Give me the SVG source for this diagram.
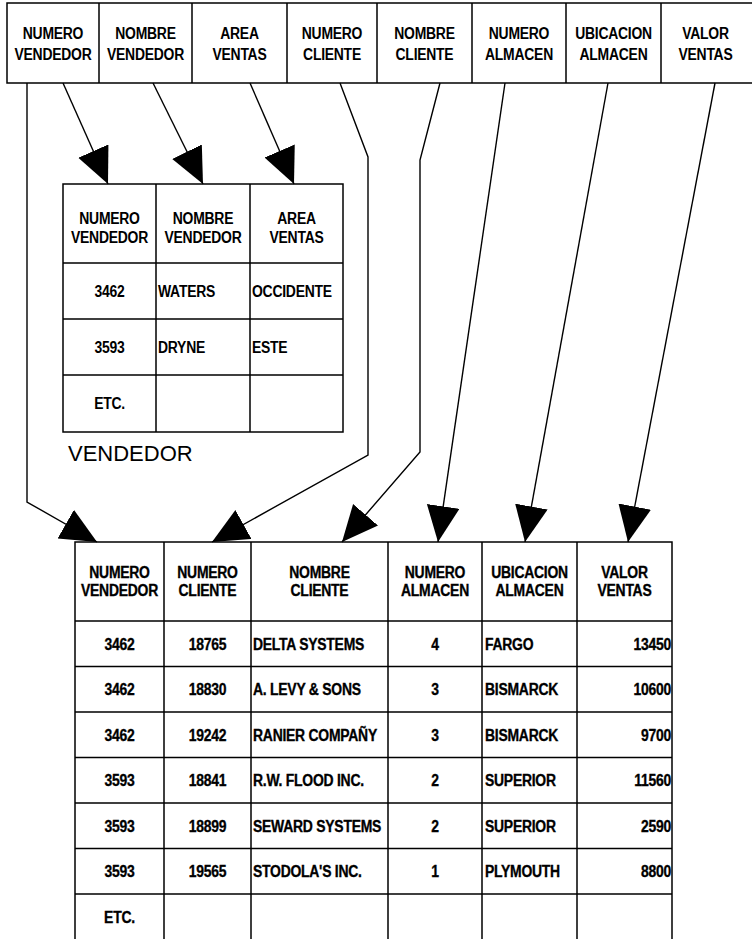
<svg xmlns="http://www.w3.org/2000/svg" width="752" height="939" viewBox="0 0 752 939">
<style>
.ln{fill:none;stroke:#000;stroke-width:1.5}
.cn{fill:none;stroke:#000;stroke-width:1.4;marker-end:url(#ah)}
.t{font-family:"Liberation Sans",Arial,sans-serif;font-size:17px;font-weight:bold;fill:#000;letter-spacing:-0.3px}
.h{stroke:#000;stroke-width:0.35}
.c{text-anchor:middle}
.r{text-anchor:end}
.lbl{font-family:"Liberation Sans",Arial,sans-serif;font-size:22px;fill:#000}
</style>
<defs>
<marker id="ah" markerUnits="userSpaceOnUse" markerWidth="37" markerHeight="34" refX="36" refY="16.5" orient="auto" viewBox="0 0 37 34">
<path d="M0,0 L36,16.5 L0,33 z" fill="#000"/>
</marker>
</defs>
<rect width="752" height="939" fill="#fff"/>

<g id="registro">
<path class="ln" d="M760,3H7V83H760"/>
<path class="ln" d="M99,3V83M192,3V83M287,3V83M377,3V83M472,3V83M566,3V83M661,3V83"/>
<g class="t c" transform="scale(0.82,1)">
<text x="64.63" y="39">NUMERO</text><text x="64.63" y="60">VENDEDOR</text>
<text x="177.44" y="39">NOMBRE</text><text x="177.44" y="60">VENDEDOR</text>
<text x="292.07" y="39">AREA</text><text x="292.07" y="60">VENTAS</text>
<text x="404.88" y="39">NUMERO</text><text x="404.88" y="60">CLIENTE</text>
<text x="517.68" y="39">NOMBRE</text><text x="517.68" y="60">CLIENTE</text>
<text x="632.93" y="39">NUMERO</text><text x="632.93" y="60">ALMACEN</text>
<text x="748.17" y="39">UBICACION</text><text x="748.17" y="60">ALMACEN</text>
<text x="860.37" y="39">VALOR</text><text x="860.37" y="60">VENTAS</text>
</g>
</g>

<g id="vendedor">
<rect class="ln" x="63" y="184" width="280" height="248"/>
<path class="ln" d="M156,184V432M250,184V432M63,263H343M63,319H343M63,375H343"/>
<g class="t c" transform="scale(0.82,1)">
<text x="133.54" y="224">NUMERO</text><text x="133.54" y="243">VENDEDOR</text>
<text x="247.56" y="224">NOMBRE</text><text x="247.56" y="243">VENDEDOR</text>
<text x="361.59" y="224">AREA</text><text x="361.59" y="243">VENTAS</text>
<text x="133.54" y="297">3462</text>
<text x="133.54" y="353">3593</text>
<text x="133.54" y="409">ETC.</text>
</g>
<g class="t" transform="scale(0.82,1)">
<text x="192.68" y="297">WATERS</text>
<text x="307.32" y="297">OCCIDENTE</text>
<text x="192.68" y="353">DRYNE</text>
<text x="307.32" y="353">ESTE</text>
</g>
<text class="lbl" x="68" y="461">VENDEDOR</text>
</g>

<g id="ventas">
<path class="ln" d="M75,939V542H672V939M164,542V939M251,542V939M388,542V939M482,542V939M577,542V939"/>
<path class="ln" d="M75,621H672M75,666.5H672M75,712H672M75,757.5H672M75,803H672M75,848.5H672M75,894H672"/>
<g class="t c h" transform="scale(0.82,1)">
<text x="145.73" y="578">NUMERO</text><text x="145.73" y="596">VENDEDOR</text>
<text x="253.05" y="578">NUMERO</text><text x="253.05" y="596">CLIENTE</text>
<text x="389.63" y="578">NOMBRE</text><text x="389.63" y="596">CLIENTE</text>
<text x="530.49" y="578">NUMERO</text><text x="530.49" y="596">ALMACEN</text>
<text x="645.73" y="578">UBICACION</text><text x="645.73" y="596">ALMACEN</text>
<text x="761.59" y="578">VALOR</text><text x="761.59" y="596">VENTAS</text>
<text x="145.73" y="650">3462</text><text x="253.05" y="650">18765</text><text x="530.49" y="650">4</text>
<text x="145.73" y="695">3462</text><text x="253.05" y="695">18830</text><text x="530.49" y="695">3</text>
<text x="145.73" y="741">3462</text><text x="253.05" y="741">19242</text><text x="530.49" y="741">3</text>
<text x="145.73" y="786">3593</text><text x="253.05" y="786">18841</text><text x="530.49" y="786">2</text>
<text x="145.73" y="832">3593</text><text x="253.05" y="832">18899</text><text x="530.49" y="832">2</text>
<text x="145.73" y="877">3593</text><text x="253.05" y="877">19565</text><text x="530.49" y="877">1</text>
<text x="145.73" y="923">ETC.</text>
</g>
<g class="t h" transform="scale(0.82,1)">
<text x="308.54" y="650">DELTA SYSTEMS</text><text x="591.46" y="650">FARGO</text>
<text x="308.54" y="695">A. LEVY &amp; SONS</text><text x="591.46" y="695">BISMARCK</text>
<text x="308.54" y="741">RANIER COMPAÑY</text><text x="591.46" y="741">BISMARCK</text>
<text x="308.54" y="786">R.W. FLOOD INC.</text><text x="591.46" y="786">SUPERIOR</text>
<text x="308.54" y="832">SEWARD SYSTEMS</text><text x="591.46" y="832">SUPERIOR</text>
<text x="308.54" y="877">STODOLA'S INC.</text><text x="591.46" y="877">PLYMOUTH</text>
</g>
<g class="t r h" transform="scale(0.82,1)">
<text x="818.29" y="650">13450</text>
<text x="818.29" y="695">10600</text>
<text x="818.29" y="741">9700</text>
<text x="818.29" y="786">11560</text>
<text x="818.29" y="832">2590</text>
<text x="818.29" y="877">8800</text>
</g>
</g>

<g id="conectores">
<path class="cn" d="M63,83L108,184"/>
<path class="cn" d="M153,83L203,184"/>
<path class="cn" d="M250,83L294,184"/>
<path class="cn" d="M27,83V502L97,542"/>
<path class="cn" d="M340,83L368,157V455L212,542"/>
<path class="cn" d="M440,83L420,160V452L342,542"/>
<path class="cn" d="M505,83L438,542"/>
<path class="cn" d="M608,83L525,542"/>
<path class="cn" d="M715,83L628,542"/>
</g>
</svg>
